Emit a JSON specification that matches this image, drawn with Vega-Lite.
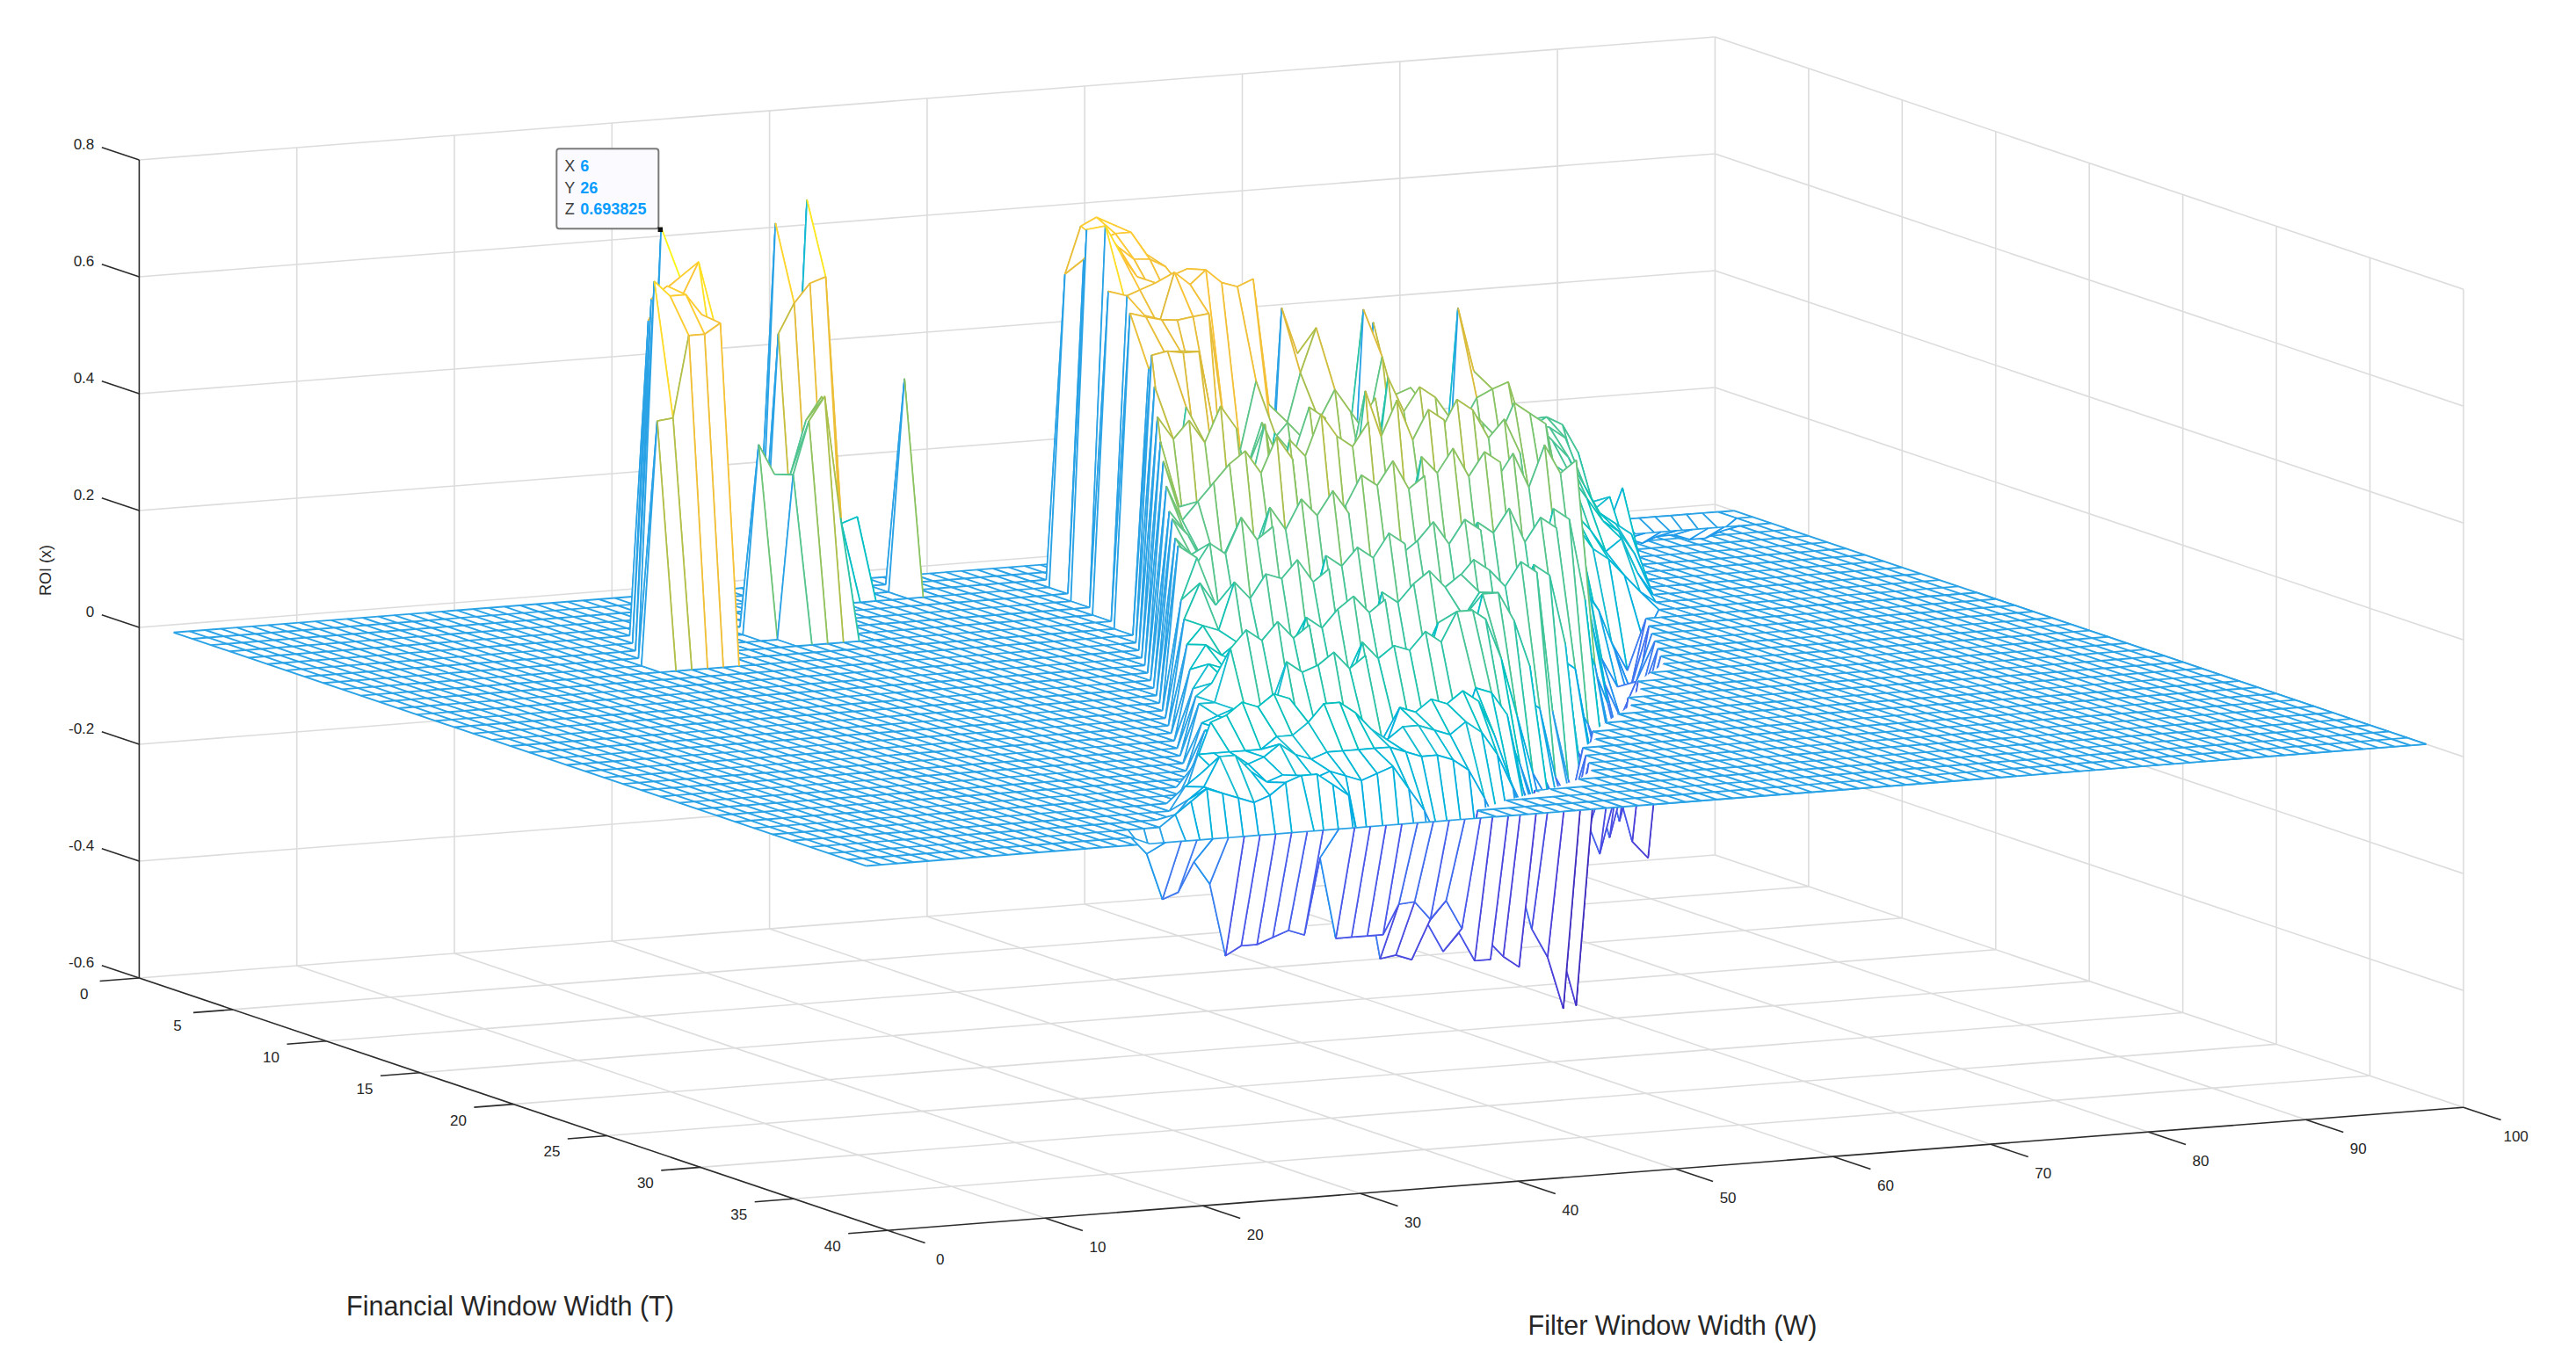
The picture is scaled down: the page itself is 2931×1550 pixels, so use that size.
{"$schema":"https://vega.github.io/schema/vega-lite/v6.json","width":2931,"height":1550,"padding":0,"autosize":{"type":"fit","contains":"padding"},"background":"white","config":{"view":{"stroke":null}},
"datasets":{
"frame":[{"g":"grid","t":0,"w":0,"z":-0.6,"t2":40,"w2":0,"z2":-0.6},{"g":"grid","t":0,"w":10,"z":-0.6,"t2":40,"w2":10,"z2":-0.6},{"g":"grid","t":0,"w":20,"z":-0.6,"t2":40,"w2":20,"z2":-0.6},{"g":"grid","t":0,"w":30,"z":-0.6,"t2":40,"w2":30,"z2":-0.6},{"g":"grid","t":0,"w":40,"z":-0.6,"t2":40,"w2":40,"z2":-0.6},{"g":"grid","t":0,"w":50,"z":-0.6,"t2":40,"w2":50,"z2":-0.6},{"g":"grid","t":0,"w":60,"z":-0.6,"t2":40,"w2":60,"z2":-0.6},{"g":"grid","t":0,"w":70,"z":-0.6,"t2":40,"w2":70,"z2":-0.6},{"g":"grid","t":0,"w":80,"z":-0.6,"t2":40,"w2":80,"z2":-0.6},{"g":"grid","t":0,"w":90,"z":-0.6,"t2":40,"w2":90,"z2":-0.6},{"g":"grid","t":0,"w":100,"z":-0.6,"t2":40,"w2":100,"z2":-0.6},
{"g":"grid","t":0,"w":0,"z":-0.6,"t2":0,"w2":100,"z2":-0.6},{"g":"grid","t":5,"w":0,"z":-0.6,"t2":5,"w2":100,"z2":-0.6},{"g":"grid","t":10,"w":0,"z":-0.6,"t2":10,"w2":100,"z2":-0.6},{"g":"grid","t":15,"w":0,"z":-0.6,"t2":15,"w2":100,"z2":-0.6},{"g":"grid","t":20,"w":0,"z":-0.6,"t2":20,"w2":100,"z2":-0.6},{"g":"grid","t":25,"w":0,"z":-0.6,"t2":25,"w2":100,"z2":-0.6},{"g":"grid","t":30,"w":0,"z":-0.6,"t2":30,"w2":100,"z2":-0.6},{"g":"grid","t":35,"w":0,"z":-0.6,"t2":35,"w2":100,"z2":-0.6},
{"g":"grid","t":0,"w":10,"z":-0.6,"t2":0,"w2":10,"z2":0.8},{"g":"grid","t":0,"w":20,"z":-0.6,"t2":0,"w2":20,"z2":0.8},{"g":"grid","t":0,"w":30,"z":-0.6,"t2":0,"w2":30,"z2":0.8},{"g":"grid","t":0,"w":40,"z":-0.6,"t2":0,"w2":40,"z2":0.8},{"g":"grid","t":0,"w":50,"z":-0.6,"t2":0,"w2":50,"z2":0.8},{"g":"grid","t":0,"w":60,"z":-0.6,"t2":0,"w2":60,"z2":0.8},{"g":"grid","t":0,"w":70,"z":-0.6,"t2":0,"w2":70,"z2":0.8},{"g":"grid","t":0,"w":80,"z":-0.6,"t2":0,"w2":80,"z2":0.8},{"g":"grid","t":0,"w":90,"z":-0.6,"t2":0,"w2":90,"z2":0.8},{"g":"grid","t":0,"w":100,"z":-0.6,"t2":0,"w2":100,"z2":0.8},
{"g":"grid","t":0,"w":0,"z":-0.4,"t2":0,"w2":100,"z2":-0.4},{"g":"grid","t":0,"w":0,"z":-0.2,"t2":0,"w2":100,"z2":-0.2},{"g":"grid","t":0,"w":0,"z":0,"t2":0,"w2":100,"z2":0},{"g":"grid","t":0,"w":0,"z":0.2,"t2":0,"w2":100,"z2":0.2},{"g":"grid","t":0,"w":0,"z":0.4,"t2":0,"w2":100,"z2":0.4},{"g":"grid","t":0,"w":0,"z":0.6,"t2":0,"w2":100,"z2":0.6},{"g":"grid","t":0,"w":0,"z":0.8,"t2":0,"w2":100,"z2":0.8},
{"g":"grid","t":5,"w":100,"z":-0.6,"t2":5,"w2":100,"z2":0.8},{"g":"grid","t":10,"w":100,"z":-0.6,"t2":10,"w2":100,"z2":0.8},{"g":"grid","t":15,"w":100,"z":-0.6,"t2":15,"w2":100,"z2":0.8},{"g":"grid","t":20,"w":100,"z":-0.6,"t2":20,"w2":100,"z2":0.8},{"g":"grid","t":25,"w":100,"z":-0.6,"t2":25,"w2":100,"z2":0.8},{"g":"grid","t":30,"w":100,"z":-0.6,"t2":30,"w2":100,"z2":0.8},{"g":"grid","t":35,"w":100,"z":-0.6,"t2":35,"w2":100,"z2":0.8},{"g":"grid","t":40,"w":100,"z":-0.6,"t2":40,"w2":100,"z2":0.8},
{"g":"grid","t":0,"w":100,"z":-0.4,"t2":40,"w2":100,"z2":-0.4},{"g":"grid","t":0,"w":100,"z":-0.2,"t2":40,"w2":100,"z2":-0.2},{"g":"grid","t":0,"w":100,"z":0,"t2":40,"w2":100,"z2":0},{"g":"grid","t":0,"w":100,"z":0.2,"t2":40,"w2":100,"z2":0.2},{"g":"grid","t":0,"w":100,"z":0.4,"t2":40,"w2":100,"z2":0.4},{"g":"grid","t":0,"w":100,"z":0.6,"t2":40,"w2":100,"z2":0.6},{"g":"grid","t":0,"w":100,"z":0.8,"t2":40,"w2":100,"z2":0.8},
{"g":"axis","t":0,"w":0,"z":-0.6,"t2":40,"w2":0,"z2":-0.6},{"g":"axis","t":40,"w":0,"z":-0.6,"t2":40,"w2":100,"z2":-0.6},{"g":"axis","t":0,"w":0,"z":-0.6,"t2":0,"w2":0,"z2":0.8},
{"g":"axis","t":0,"w":0,"z":-0.6,"t2":-2,"w2":0,"z2":-0.6},{"g":"axis","t":0,"w":0,"z":-0.4,"t2":-2,"w2":0,"z2":-0.4},{"g":"axis","t":0,"w":0,"z":-0.2,"t2":-2,"w2":0,"z2":-0.2},{"g":"axis","t":0,"w":0,"z":0,"t2":-2,"w2":0,"z2":0},{"g":"axis","t":0,"w":0,"z":0.2,"t2":-2,"w2":0,"z2":0.2},{"g":"axis","t":0,"w":0,"z":0.4,"t2":-2,"w2":0,"z2":0.4},{"g":"axis","t":0,"w":0,"z":0.6,"t2":-2,"w2":0,"z2":0.6},{"g":"axis","t":0,"w":0,"z":0.8,"t2":-2,"w2":0,"z2":0.8},
{"g":"axis","t":0,"w":0,"z":-0.6,"t2":0,"w2":-2.5,"z2":-0.6},{"g":"axis","t":5,"w":0,"z":-0.6,"t2":5,"w2":-2.5,"z2":-0.6},{"g":"axis","t":10,"w":0,"z":-0.6,"t2":10,"w2":-2.5,"z2":-0.6},{"g":"axis","t":15,"w":0,"z":-0.6,"t2":15,"w2":-2.5,"z2":-0.6},{"g":"axis","t":20,"w":0,"z":-0.6,"t2":20,"w2":-2.5,"z2":-0.6},{"g":"axis","t":25,"w":0,"z":-0.6,"t2":25,"w2":-2.5,"z2":-0.6},{"g":"axis","t":30,"w":0,"z":-0.6,"t2":30,"w2":-2.5,"z2":-0.6},{"g":"axis","t":35,"w":0,"z":-0.6,"t2":35,"w2":-2.5,"z2":-0.6},{"g":"axis","t":40,"w":0,"z":-0.6,"t2":40,"w2":-2.5,"z2":-0.6},
{"g":"axis","t":40,"w":0,"z":-0.6,"t2":42,"w2":0,"z2":-0.6},{"g":"axis","t":40,"w":10,"z":-0.6,"t2":42,"w2":10,"z2":-0.6},{"g":"axis","t":40,"w":20,"z":-0.6,"t2":42,"w2":20,"z2":-0.6},{"g":"axis","t":40,"w":30,"z":-0.6,"t2":42,"w2":30,"z2":-0.6},{"g":"axis","t":40,"w":40,"z":-0.6,"t2":42,"w2":40,"z2":-0.6},{"g":"axis","t":40,"w":50,"z":-0.6,"t2":42,"w2":50,"z2":-0.6},{"g":"axis","t":40,"w":60,"z":-0.6,"t2":42,"w2":60,"z2":-0.6},{"g":"axis","t":40,"w":70,"z":-0.6,"t2":42,"w2":70,"z2":-0.6},{"g":"axis","t":40,"w":80,"z":-0.6,"t2":42,"w2":80,"z2":-0.6},{"g":"axis","t":40,"w":90,"z":-0.6,"t2":42,"w2":90,"z2":-0.6},{"g":"axis","t":40,"w":100,"z":-0.6,"t2":42,"w2":100,"z2":-0.6}],
"labels":[{"a":"z","t":-2.4,"w":0,"z":0.8,"s":"0.8"},{"a":"z","t":-2.4,"w":0,"z":0.6,"s":"0.6"},{"a":"z","t":-2.4,"w":0,"z":0.4,"s":"0.4"},{"a":"z","t":-2.4,"w":0,"z":0.2,"s":"0.2"},{"a":"z","t":-2.4,"w":0,"z":0,"s":"0"},{"a":"z","t":-2.4,"w":0,"z":-0.2,"s":"-0.2"},{"a":"z","t":-2.4,"w":0,"z":-0.4,"s":"-0.4"},{"a":"z","t":-2.4,"w":0,"z":-0.6,"s":"-0.6"},
{"a":"t","t":0,"w":-3.5,"z":-0.6,"s":"0"},{"a":"t","t":5,"w":-3.5,"z":-0.6,"s":"5"},{"a":"t","t":10,"w":-3.5,"z":-0.6,"s":"10"},{"a":"t","t":15,"w":-3.5,"z":-0.6,"s":"15"},{"a":"t","t":20,"w":-3.5,"z":-0.6,"s":"20"},{"a":"t","t":25,"w":-3.5,"z":-0.6,"s":"25"},{"a":"t","t":30,"w":-3.5,"z":-0.6,"s":"30"},{"a":"t","t":35,"w":-3.5,"z":-0.6,"s":"35"},{"a":"t","t":40,"w":-3.5,"z":-0.6,"s":"40"},
{"a":"t","t":42.8,"w":0,"z":-0.6,"s":"0"},{"a":"t","t":42.8,"w":10,"z":-0.6,"s":"10"},{"a":"t","t":42.8,"w":20,"z":-0.6,"s":"20"},{"a":"t","t":42.8,"w":30,"z":-0.6,"s":"30"},{"a":"t","t":42.8,"w":40,"z":-0.6,"s":"40"},{"a":"t","t":42.8,"w":50,"z":-0.6,"s":"50"},{"a":"t","t":42.8,"w":60,"z":-0.6,"s":"60"},{"a":"t","t":42.8,"w":70,"z":-0.6,"s":"70"},{"a":"t","t":42.8,"w":80,"z":-0.6,"s":"80"},{"a":"t","t":42.8,"w":90,"z":-0.6,"s":"90"},{"a":"t","t":42.8,"w":100,"z":-0.6,"s":"100"}],
"titles":[{"t":46.1,"w":-31.2,"z":-0.6,"s":"Financial Window Width (T)"},{"t":60.3,"w":25.7,"z":-0.6,"s":"Filter Window Width (W)"}],
"zt":[{"t":0,"w":-5.9,"z":0.11,"s":"ROI (x)"}],
"sheetpoly":[{"t":1,"w":1,"i":0},{"t":1,"w":100,"i":1},{"t":38,"w":100,"i":2},{"t":38,"w":1,"i":3}],
"sheet":[{"t":1},{"t":2},{"t":3},{"t":4},{"t":5},{"t":6},{"t":7},{"t":8},{"t":9},{"t":10},{"t":11},{"t":12},{"t":13},{"t":14},{"t":15},{"t":16},{"t":17},{"t":18},{"t":19},{"t":20},{"t":21},{"t":22},{"t":23},{"t":24},{"t":25},{"t":26},{"t":27},{"t":28},{"t":29},{"t":30},{"t":31},{"t":32},{"t":33},{"t":34},{"t":35},{"t":36},{"t":37},{"t":38},{"w":1},{"w":2},{"w":3},{"w":4},{"w":5},{"w":6},{"w":7},{"w":8},{"w":9},{"w":10},{"w":11},{"w":12},{"w":13},{"w":14},{"w":15},{"w":16},{"w":17},{"w":18},{"w":19},{"w":20},{"w":21},{"w":22},{"w":23},{"w":24},{"w":25},{"w":26},{"w":27},{"w":28},{"w":29},{"w":30},{"w":31},{"w":32},{"w":33},{"w":34},{"w":35},{"w":36},{"w":37},{"w":38},{"w":39},{"w":40},{"w":41},{"w":42},{"w":43},{"w":44},{"w":45},{"w":46},{"w":47},{"w":48},{"w":49},{"w":50},{"w":51},{"w":52},{"w":53},{"w":54},{"w":55},{"w":56},{"w":57},{"w":58},{"w":59},{"w":60},{"w":61},{"w":62},{"w":63},{"w":64},{"w":65},{"w":66},{"w":67},{"w":68},{"w":69},{"w":70},{"w":71},{"w":72},{"w":73},{"w":74},{"w":75},{"w":76},{"w":77},{"w":78},{"w":79},{"w":80},{"w":81},{"w":82},{"w":83},{"w":84},{"w":85},{"w":86},{"w":87},{"w":88},{"w":89},{"w":90},{"w":91},{"w":92},{"w":93},{"w":94},{"w":95},{"w":96},{"w":97},{"w":98},{"w":99},{"w":100}],
"coverT":[{"t":14,"w":79},{"t":15,"w":78},{"t":16,"w":77},{"t":17,"w":76},{"t":18,"w":75},{"t":19,"w":74},{"t":20,"w":73},{"t":21,"w":71},{"t":22,"w":69},{"t":23,"w":68},{"t":24,"w":66},{"t":25,"w":65},{"t":26,"w":63},{"t":27,"w":61},{"t":28,"w":59},{"t":29,"w":58},{"t":30,"w":56},{"t":31,"w":55},{"t":32,"w":54},{"t":33,"w":53},{"t":34,"w":51},{"t":35,"w":48},{"t":36,"w":44},{"t":37,"w":41},{"t":38,"w":41}],
"coverW":[{"w":41,"u":37},{"w":42,"u":37},{"w":43,"u":37},{"w":44,"u":36},{"w":45,"u":36},{"w":46,"u":36},{"w":47,"u":36},{"w":48,"u":35},{"w":49,"u":35},{"w":50,"u":35},{"w":51,"u":34},{"w":52,"u":34},{"w":53,"u":33},{"w":54,"u":32},{"w":55,"u":31},{"w":56,"u":30},{"w":57,"u":30},{"w":58,"u":29},{"w":59,"u":28},{"w":60,"u":28},{"w":61,"u":27},{"w":62,"u":27},{"w":63,"u":26},{"w":64,"u":26},{"w":65,"u":25},{"w":66,"u":24},{"w":67,"u":24},{"w":68,"u":23},{"w":69,"u":22},{"w":70,"u":22},{"w":71,"u":21},{"w":72,"u":21},{"w":73,"u":20},{"w":74,"u":19},{"w":75,"u":18},{"w":76,"u":17},{"w":77,"u":16},{"w":78,"u":15},{"w":79,"u":14},{"w":80,"u":14},{"w":81,"u":14},{"w":82,"u":14},{"w":83,"u":14},{"w":84,"u":14},{"w":85,"u":14},{"w":86,"u":14},{"w":87,"u":14},{"w":88,"u":14},{"w":89,"u":14},{"w":90,"u":14},{"w":91,"u":14},{"w":92,"u":14},{"w":93,"u":14},{"w":94,"u":14},{"w":95,"u":14},{"w":96,"u":14},{"w":97,"u":14},{"w":98,"u":14},{"w":99,"u":14},{"w":100,"u":14}],
"coverpoly":[{"t":14,"w":100,"i":0},{"t":38,"w":100,"i":1},{"t":38,"w":41,"i":2},{"t":37,"w":41,"i":3},{"t":36,"w":44,"i":4},{"t":35,"w":48,"i":5},{"t":34,"w":51,"i":6},{"t":33,"w":53,"i":7},{"t":32,"w":54,"i":8},{"t":31,"w":55,"i":9},{"t":30,"w":56,"i":10},{"t":29,"w":58,"i":11},{"t":28,"w":59,"i":12},{"t":27,"w":61,"i":13},{"t":26,"w":63,"i":14},{"t":25,"w":65,"i":15},{"t":24,"w":66,"i":16},{"t":23,"w":68,"i":17},{"t":22,"w":69,"i":18},{"t":21,"w":71,"i":19},{"t":20,"w":73,"i":20},{"t":19,"w":74,"i":21},{"t":18,"w":75,"i":22},{"t":17,"w":76,"i":23},{"t":16,"w":77,"i":24},{"t":15,"w":78,"i":25},{"t":14,"w":79,"i":26}],
"tip":[{"t":6,"w":26,"z":0.693825}],
"tiptext":[{"t":6,"w":26,"z":0.693825,"r":0,"n":"X","v":"6"},{"t":6,"w":26,"z":0.693825,"r":1,"n":"Y","v":"26"},{"t":6,"w":26,"z":0.693825,"r":2,"n":"Z","v":"0.693825"}],
"nodes":[
{"t":1,"w":98,"z":0},{"t":1,"w":97,"z":0},{"t":1,"w":96,"z":0},{"t":1,"w":95,"z":0},{"t":1,"w":94,"z":0},{"t":1,"w":93,"z":0},{"t":1,"w":92,"z":0},{"t":1,"w":91,"z":0},{"t":1,"w":40,"z":0},{"t":1,"w":39,"z":0},{"t":1,"w":38,"z":0},{"t":1,"w":37,"z":0},{"t":1,"w":36,"z":0},
{"t":2,"w":98,"z":-0.02},{"t":2,"w":97,"z":-0.03},{"t":2,"w":96,"z":-0.03},{"t":2,"w":95,"z":-0.02},{"t":2,"w":94,"z":-0.02},{"t":2,"w":93,"z":-0.03},{"t":2,"w":92,"z":-0.02},{"t":2,"w":91,"z":0},{"t":2,"w":45,"z":0},{"t":2,"w":44,"z":0},{"t":2,"w":43,"z":0},{"t":2,"w":42,"z":0},{"t":2,"w":41,"z":0},{"t":2,"w":40,"z":0.669},{"t":2,"w":39,"z":0.1},{"t":2,"w":38,"z":0.633},{"t":2,"w":37,"z":0},{"t":2,"w":36,"z":0},
{"t":3,"w":60,"z":0},{"t":3,"w":59,"z":0},{"t":3,"w":58,"z":0},{"t":3,"w":57,"z":0},{"t":3,"w":56,"z":0},{"t":3,"w":55,"z":0},{"t":3,"w":54,"z":0},{"t":3,"w":53,"z":0},{"t":3,"w":45,"z":0.363},{"t":3,"w":44,"z":0},{"t":3,"w":43,"z":0},{"t":3,"w":42,"z":0.133},{"t":3,"w":41,"z":0.124},{"t":3,"w":40,"z":0.548},{"t":3,"w":39,"z":0.539},{"t":3,"w":38,"z":0.507},{"t":3,"w":37,"z":0.457},{"t":3,"w":36,"z":0},
{"t":4,"w":60,"z":0},{"t":4,"w":59,"z":0.3},{"t":4,"w":58,"z":0.55},{"t":4,"w":57,"z":0.613},{"t":4,"w":56,"z":0.627},{"t":4,"w":55,"z":0.614},{"t":4,"w":54,"z":0.534},{"t":4,"w":53,"z":0},
{"t":5,"w":88,"z":0},{"t":5,"w":87,"z":0},{"t":5,"w":86,"z":0},{"t":5,"w":85,"z":0},{"t":5,"w":84,"z":0.05},{"t":5,"w":83,"z":0.1},{"t":5,"w":82,"z":0.18},{"t":5,"w":81,"z":0.2},{"t":5,"w":80,"z":0.15},{"t":5,"w":79,"z":0},{"t":5,"w":78,"z":0},{"t":5,"w":61,"z":0},{"t":5,"w":60,"z":0.3},{"t":5,"w":59,"z":0.45},{"t":5,"w":58,"z":0.57},{"t":5,"w":57,"z":0.61},{"t":5,"w":56,"z":0.61},{"t":5,"w":55,"z":0.6},{"t":5,"w":54,"z":0.57},{"t":5,"w":53,"z":0},{"t":5,"w":52,"z":0},{"t":5,"w":27,"z":0},{"t":5,"w":26,"z":0},{"t":5,"w":25,"z":0},
{"t":6,"w":88,"z":0},{"t":6,"w":87,"z":0.12},{"t":6,"w":86,"z":0.05},{"t":6,"w":85,"z":0.1},{"t":6,"w":84,"z":0.1},{"t":6,"w":83,"z":0.12},{"t":6,"w":82,"z":0.24},{"t":6,"w":81,"z":0.25},{"t":6,"w":80,"z":0.22},{"t":6,"w":79,"z":0},{"t":6,"w":78,"z":0},{"t":6,"w":71,"z":0},{"t":6,"w":70,"z":0},{"t":6,"w":69,"z":0},{"t":6,"w":62,"z":0},{"t":6,"w":61,"z":0.2},{"t":6,"w":60,"z":0.4},{"t":6,"w":59,"z":0.5},{"t":6,"w":58,"z":0.56},{"t":6,"w":57,"z":0.575},{"t":6,"w":56,"z":0.577},{"t":6,"w":55,"z":0.6},{"t":6,"w":54,"z":0.63},{"t":6,"w":53,"z":0.634},{"t":6,"w":52,"z":0},{"t":6,"w":51,"z":0},{"t":6,"w":36,"z":0},{"t":6,"w":35,"z":0},{"t":6,"w":34,"z":0},{"t":6,"w":33,"z":0},{"t":6,"w":32,"z":0},{"t":6,"w":31,"z":0},{"t":6,"w":30,"z":0},{"t":6,"w":28,"z":0},{"t":6,"w":27,"z":0.5},{"t":6,"w":26,"z":0.693825},{"t":6,"w":25,"z":0},{"t":6,"w":24,"z":0},{"t":6,"w":23,"z":0},
{"t":7,"w":87,"z":0},{"t":7,"w":86,"z":0},{"t":7,"w":85,"z":0.12},{"t":7,"w":84,"z":0.1},{"t":7,"w":83,"z":0.2},{"t":7,"w":82,"z":0.25},{"t":7,"w":81,"z":0.265},{"t":7,"w":80,"z":0.25},{"t":7,"w":79,"z":0.2},{"t":7,"w":78,"z":0},{"t":7,"w":77,"z":0.05},{"t":7,"w":76,"z":0.05},{"t":7,"w":75,"z":0.05},{"t":7,"w":74,"z":0},{"t":7,"w":73,"z":0},{"t":7,"w":72,"z":0.1},{"t":7,"w":71,"z":0.2},{"t":7,"w":70,"z":0.45},{"t":7,"w":69,"z":0},{"t":7,"w":68,"z":0},{"t":7,"w":67,"z":0},{"t":7,"w":66,"z":0},{"t":7,"w":65,"z":0},{"t":7,"w":64,"z":0},{"t":7,"w":63,"z":0},{"t":7,"w":62,"z":0},{"t":7,"w":61,"z":0.3},{"t":7,"w":60,"z":0.45},{"t":7,"w":59,"z":0.5},{"t":7,"w":58,"z":0.53},{"t":7,"w":57,"z":0.52},{"t":7,"w":56,"z":0.53},{"t":7,"w":55,"z":0.56},{"t":7,"w":54,"z":0.6},{"t":7,"w":53,"z":0.651},{"t":7,"w":52,"z":0},{"t":7,"w":51,"z":0},{"t":7,"w":36,"z":0},{"t":7,"w":35,"z":0.397},{"t":7,"w":34,"z":0.358},{"t":7,"w":33,"z":0.267},{"t":7,"w":32,"z":0.27},{"t":7,"w":31,"z":0.323},{"t":7,"w":30,"z":0},{"t":7,"w":28,"z":0},{"t":7,"w":27,"z":0.6},{"t":7,"w":26,"z":0.62},{"t":7,"w":25,"z":0.6},{"t":7,"w":24,"z":0.55},{"t":7,"w":23,"z":0},{"t":7,"w":22,"z":0},
{"t":8,"w":86,"z":0},{"t":8,"w":85,"z":0.03},{"t":8,"w":84,"z":0.08},{"t":8,"w":83,"z":0.1},{"t":8,"w":82,"z":0.15},{"t":8,"w":81,"z":0.24},{"t":8,"w":80,"z":0.26},{"t":8,"w":79,"z":0.27},{"t":8,"w":78,"z":0.22},{"t":8,"w":77,"z":0.18},{"t":8,"w":76,"z":0.1},{"t":8,"w":75,"z":0.1},{"t":8,"w":74,"z":0.15},{"t":8,"w":73,"z":0.1},{"t":8,"w":72,"z":0.05},{"t":8,"w":71,"z":0.2},{"t":8,"w":70,"z":0.33},{"t":8,"w":69,"z":0.38},{"t":8,"w":68,"z":0.32},{"t":8,"w":67,"z":0.2},{"t":8,"w":66,"z":0},{"t":8,"w":65,"z":0.3},{"t":8,"w":64,"z":0.42},{"t":8,"w":63,"z":0.5},{"t":8,"w":62,"z":0},{"t":8,"w":61,"z":0.4},{"t":8,"w":60,"z":0.5},{"t":8,"w":59,"z":0.55},{"t":8,"w":58,"z":0.57},{"t":8,"w":57,"z":0.58},{"t":8,"w":56,"z":0.57},{"t":8,"w":55,"z":0.56},{"t":8,"w":54,"z":0.55},{"t":8,"w":53,"z":0.54},{"t":8,"w":52,"z":0.552},{"t":8,"w":51,"z":0},{"t":8,"w":50,"z":0},{"t":8,"w":36,"z":0},{"t":8,"w":35,"z":0.2},{"t":8,"w":34,"z":0.41},{"t":8,"w":33,"z":0.37},{"t":8,"w":32,"z":0.28},{"t":8,"w":31,"z":0},{"t":8,"w":30,"z":0},{"t":8,"w":28,"z":0},{"t":8,"w":27,"z":0.55},{"t":8,"w":26,"z":0.657},{"t":8,"w":25,"z":0.603},{"t":8,"w":24,"z":0.62},{"t":8,"w":23,"z":0.6},{"t":8,"w":22,"z":0},{"t":8,"w":21,"z":0},
{"t":9,"w":85,"z":0},{"t":9,"w":84,"z":0.08},{"t":9,"w":83,"z":0.1},{"t":9,"w":82,"z":0.12},{"t":9,"w":81,"z":0.17},{"t":9,"w":80,"z":0.22},{"t":9,"w":79,"z":0.25},{"t":9,"w":78,"z":0.28},{"t":9,"w":77,"z":0.25},{"t":9,"w":76,"z":0.22},{"t":9,"w":75,"z":0.33},{"t":9,"w":74,"z":0.38},{"t":9,"w":73,"z":0.49},{"t":9,"w":72,"z":0},{"t":9,"w":71,"z":0.22},{"t":9,"w":70,"z":0.36},{"t":9,"w":69,"z":0.35},{"t":9,"w":68,"z":0.32},{"t":9,"w":67,"z":0.5},{"t":9,"w":66,"z":0},{"t":9,"w":65,"z":0.3},{"t":9,"w":64,"z":0.475},{"t":9,"w":63,"z":0.4},{"t":9,"w":62,"z":0.3},{"t":9,"w":61,"z":0.35},{"t":9,"w":60,"z":0.567},{"t":9,"w":59,"z":0.556},{"t":9,"w":58,"z":0.565},{"t":9,"w":57,"z":0.589},{"t":9,"w":56,"z":0.566},{"t":9,"w":55,"z":0.589},{"t":9,"w":54,"z":0.5},{"t":9,"w":53,"z":0.52},{"t":9,"w":52,"z":0.555},{"t":9,"w":51,"z":0},{"t":9,"w":50,"z":0},{"t":9,"w":49,"z":0},{"t":9,"w":27,"z":0},{"t":9,"w":26,"z":0.45},{"t":9,"w":25,"z":0.58},{"t":9,"w":24,"z":0.616},{"t":9,"w":23,"z":0.616},{"t":9,"w":22,"z":0.643},{"t":9,"w":21,"z":0},{"t":9,"w":20,"z":0},
{"t":10,"w":84,"z":0},{"t":10,"w":83,"z":0.06},{"t":10,"w":82,"z":0.1},{"t":10,"w":81,"z":0.12},{"t":10,"w":80,"z":0.16},{"t":10,"w":79,"z":0.2},{"t":10,"w":78,"z":0.22},{"t":10,"w":77,"z":0.25},{"t":10,"w":76,"z":0.28},{"t":10,"w":75,"z":0.37},{"t":10,"w":74,"z":0.36},{"t":10,"w":73,"z":0.347},{"t":10,"w":72,"z":0.3},{"t":10,"w":71,"z":0.3},{"t":10,"w":70,"z":0.33},{"t":10,"w":69,"z":0.3},{"t":10,"w":68,"z":0.33},{"t":10,"w":67,"z":0.43},{"t":10,"w":66,"z":0.3},{"t":10,"w":65,"z":0.34},{"t":10,"w":64,"z":0.38},{"t":10,"w":63,"z":0.33},{"t":10,"w":62,"z":0.3},{"t":10,"w":61,"z":0.33},{"t":10,"w":60,"z":0.3},{"t":10,"w":59,"z":0.405},{"t":10,"w":58,"z":0.29},{"t":10,"w":57,"z":0.33},{"t":10,"w":56,"z":0.527},{"t":10,"w":55,"z":0.524},{"t":10,"w":54,"z":0.52},{"t":10,"w":53,"z":0.523},{"t":10,"w":52,"z":0.53},{"t":10,"w":51,"z":0.538},{"t":10,"w":50,"z":0},{"t":10,"w":49,"z":0},{"t":10,"w":48,"z":0},{"t":10,"w":26,"z":0},{"t":10,"w":25,"z":0.576},{"t":10,"w":24,"z":0.559},{"t":10,"w":23,"z":0.559},{"t":10,"w":22,"z":0.42},{"t":10,"w":21,"z":0.417},{"t":10,"w":20,"z":0},
{"t":11,"w":83,"z":0},{"t":11,"w":82,"z":0.04},{"t":11,"w":81,"z":0.1},{"t":11,"w":80,"z":0.08},{"t":11,"w":79,"z":0.12},{"t":11,"w":78,"z":0.15},{"t":11,"w":77,"z":0.18},{"t":11,"w":76,"z":0.22},{"t":11,"w":75,"z":0.2},{"t":11,"w":74,"z":0.16},{"t":11,"w":73,"z":0.12},{"t":11,"w":72,"z":0.1},{"t":11,"w":71,"z":0.14},{"t":11,"w":70,"z":0.12},{"t":11,"w":69,"z":0.1},{"t":11,"w":68,"z":0.13},{"t":11,"w":67,"z":0.16},{"t":11,"w":66,"z":0.13},{"t":11,"w":65,"z":0.18},{"t":11,"w":64,"z":0.13},{"t":11,"w":63,"z":0.1},{"t":11,"w":62,"z":0.12},{"t":11,"w":61,"z":0.1},{"t":11,"w":60,"z":0.15},{"t":11,"w":59,"z":0.327},{"t":11,"w":58,"z":0.17},{"t":11,"w":57,"z":0.13},{"t":11,"w":56,"z":0.15},{"t":11,"w":55,"z":0.36},{"t":11,"w":54,"z":0.4},{"t":11,"w":53,"z":0.48},{"t":11,"w":52,"z":0.48},{"t":11,"w":51,"z":0.454},{"t":11,"w":50,"z":0},{"t":11,"w":49,"z":0},{"t":11,"w":48,"z":0},
{"t":12,"w":82,"z":0},{"t":12,"w":81,"z":0.02},{"t":12,"w":80,"z":0.05},{"t":12,"w":79,"z":0.08},{"t":12,"w":78,"z":0.1},{"t":12,"w":77,"z":0.14},{"t":12,"w":76,"z":0.18},{"t":12,"w":75,"z":0.32},{"t":12,"w":74,"z":0.34},{"t":12,"w":73,"z":0.36},{"t":12,"w":72,"z":0.3},{"t":12,"w":71,"z":0.33},{"t":12,"w":70,"z":0.36},{"t":12,"w":69,"z":0.34},{"t":12,"w":68,"z":0.38},{"t":12,"w":67,"z":0.4},{"t":12,"w":66,"z":0.36},{"t":12,"w":65,"z":0.42},{"t":12,"w":64,"z":0.2},{"t":12,"w":63,"z":0.14},{"t":12,"w":62,"z":0.16},{"t":12,"w":61,"z":0.36},{"t":12,"w":60,"z":0.38},{"t":12,"w":59,"z":0.3},{"t":12,"w":58,"z":0.3},{"t":12,"w":57,"z":0.36},{"t":12,"w":56,"z":0.28},{"t":12,"w":55,"z":0.3},{"t":12,"w":54,"z":0.35},{"t":12,"w":53,"z":0.49},{"t":12,"w":52,"z":0.49},{"t":12,"w":51,"z":0.495},{"t":12,"w":50,"z":0.49},{"t":12,"w":49,"z":0},{"t":12,"w":48,"z":0},
{"t":13,"w":81,"z":0},{"t":13,"w":80,"z":-0.05},{"t":13,"w":79,"z":-0.1},{"t":13,"w":78,"z":-0.05},{"t":13,"w":77,"z":0},{"t":13,"w":76,"z":0.06},{"t":13,"w":75,"z":0.1},{"t":13,"w":74,"z":0.16},{"t":13,"w":73,"z":0.18},{"t":13,"w":72,"z":0.14},{"t":13,"w":71,"z":0.16},{"t":13,"w":70,"z":0.18},{"t":13,"w":69,"z":0.2},{"t":13,"w":68,"z":0.12},{"t":13,"w":67,"z":0.15},{"t":13,"w":66,"z":0.18},{"t":13,"w":65,"z":0.16},{"t":13,"w":64,"z":0.24},{"t":13,"w":63,"z":0.4},{"t":13,"w":62,"z":0.36},{"t":13,"w":61,"z":0.2},{"t":13,"w":60,"z":0.14},{"t":13,"w":59,"z":0.12},{"t":13,"w":58,"z":0.16},{"t":13,"w":57,"z":0.2},{"t":13,"w":56,"z":0.37},{"t":13,"w":55,"z":0.26},{"t":13,"w":54,"z":0.28},{"t":13,"w":53,"z":0.25},{"t":13,"w":52,"z":0.245},{"t":13,"w":51,"z":0.41},{"t":13,"w":50,"z":0.22},{"t":13,"w":49,"z":0.449},{"t":13,"w":48,"z":0},{"t":13,"w":47,"z":0},
{"t":14,"w":78,"z":-0.12},{"t":14,"w":77,"z":-0.05},{"t":14,"w":76,"z":0.02},{"t":14,"w":75,"z":0.06},{"t":14,"w":74,"z":0.1},{"t":14,"w":73,"z":0.08},{"t":14,"w":72,"z":0.1},{"t":14,"w":71,"z":0.3},{"t":14,"w":70,"z":0.36},{"t":14,"w":69,"z":0.33},{"t":14,"w":68,"z":0.38},{"t":14,"w":67,"z":0.4},{"t":14,"w":66,"z":0.35},{"t":14,"w":65,"z":0.2},{"t":14,"w":64,"z":0.26},{"t":14,"w":63,"z":0.22},{"t":14,"w":62,"z":0.25},{"t":14,"w":61,"z":0.2},{"t":14,"w":60,"z":0.27},{"t":14,"w":59,"z":0.08},{"t":14,"w":58,"z":0.12},{"t":14,"w":57,"z":0.07},{"t":14,"w":56,"z":0.1},{"t":14,"w":55,"z":0.13},{"t":14,"w":54,"z":0.09},{"t":14,"w":53,"z":0.38},{"t":14,"w":52,"z":0.42},{"t":14,"w":51,"z":0.36},{"t":14,"w":50,"z":0.4},{"t":14,"w":49,"z":0.37},{"t":14,"w":48,"z":0.41},{"t":14,"w":47,"z":0},{"t":14,"w":46,"z":0},
{"t":15,"w":77,"z":-0.15},{"t":15,"w":76,"z":-0.1},{"t":15,"w":75,"z":-0.05},{"t":15,"w":74,"z":0.1},{"t":15,"w":73,"z":0.16},{"t":15,"w":72,"z":0.2},{"t":15,"w":71,"z":0.08},{"t":15,"w":70,"z":0.1},{"t":15,"w":69,"z":0.06},{"t":15,"w":68,"z":0.1},{"t":15,"w":67,"z":0.12},{"t":15,"w":66,"z":0.08},{"t":15,"w":65,"z":0.38},{"t":15,"w":64,"z":0.4},{"t":15,"w":63,"z":0.35},{"t":15,"w":62,"z":0.42},{"t":15,"w":61,"z":0.36},{"t":15,"w":60,"z":0.44},{"t":15,"w":59,"z":0.22},{"t":15,"w":58,"z":0.26},{"t":15,"w":57,"z":0.2},{"t":15,"w":56,"z":0.25},{"t":15,"w":55,"z":0.28},{"t":15,"w":54,"z":0.22},{"t":15,"w":53,"z":0.1},{"t":15,"w":52,"z":0.08},{"t":15,"w":51,"z":0.11},{"t":15,"w":50,"z":0.07},{"t":15,"w":49,"z":0.12},{"t":15,"w":48,"z":0.15},{"t":15,"w":47,"z":0.38},{"t":15,"w":46,"z":0},{"t":15,"w":45,"z":0},
{"t":16,"w":76,"z":-0.08},{"t":16,"w":75,"z":-0.14},{"t":16,"w":74,"z":-0.08},{"t":16,"w":73,"z":0.05},{"t":16,"w":72,"z":0.22},{"t":16,"w":71,"z":0.2},{"t":16,"w":70,"z":0.24},{"t":16,"w":69,"z":0.2},{"t":16,"w":68,"z":0.22},{"t":16,"w":67,"z":0.26},{"t":16,"w":66,"z":0.2},{"t":16,"w":65,"z":0.08},{"t":16,"w":64,"z":0.1},{"t":16,"w":63,"z":0.12},{"t":16,"w":62,"z":0.07},{"t":16,"w":61,"z":0.1},{"t":16,"w":60,"z":0.06},{"t":16,"w":59,"z":0.4},{"t":16,"w":58,"z":0.36},{"t":16,"w":57,"z":0.38},{"t":16,"w":56,"z":0.42},{"t":16,"w":55,"z":0.35},{"t":16,"w":54,"z":0.38},{"t":16,"w":53,"z":0.22},{"t":16,"w":52,"z":0.26},{"t":16,"w":51,"z":0.2},{"t":16,"w":50,"z":0.24},{"t":16,"w":49,"z":0.2},{"t":16,"w":48,"z":0.25},{"t":16,"w":47,"z":0.28},{"t":16,"w":46,"z":0.36},{"t":16,"w":45,"z":0},{"t":16,"w":44,"z":0},
{"t":17,"w":75,"z":-0.1},{"t":17,"w":74,"z":-0.2},{"t":17,"w":73,"z":-0.1},{"t":17,"w":72,"z":-0.03},{"t":17,"w":71,"z":0.32},{"t":17,"w":70,"z":0.3},{"t":17,"w":69,"z":0.35},{"t":17,"w":68,"z":0.28},{"t":17,"w":67,"z":0.34},{"t":17,"w":66,"z":0.3},{"t":17,"w":65,"z":0.22},{"t":17,"w":64,"z":0.2},{"t":17,"w":63,"z":0.24},{"t":17,"w":62,"z":0.18},{"t":17,"w":61,"z":0.22},{"t":17,"w":60,"z":0.2},{"t":17,"w":59,"z":0.07},{"t":17,"w":58,"z":0.1},{"t":17,"w":57,"z":0.06},{"t":17,"w":56,"z":0.1},{"t":17,"w":55,"z":0.08},{"t":17,"w":54,"z":0.12},{"t":17,"w":53,"z":0.36},{"t":17,"w":52,"z":0.4},{"t":17,"w":51,"z":0.34},{"t":17,"w":50,"z":0.38},{"t":17,"w":49,"z":0.36},{"t":17,"w":48,"z":0.33},{"t":17,"w":47,"z":0.3},{"t":17,"w":46,"z":0.27},{"t":17,"w":45,"z":0.33},{"t":17,"w":44,"z":0},{"t":17,"w":43,"z":0},
{"t":18,"w":74,"z":-0.12},{"t":18,"w":73,"z":-0.22},{"t":18,"w":72,"z":-0.15},{"t":18,"w":71,"z":-0.02},{"t":18,"w":70,"z":0.05},{"t":18,"w":69,"z":0.07},{"t":18,"w":68,"z":0.04},{"t":18,"w":67,"z":0.06},{"t":18,"w":66,"z":0.05},{"t":18,"w":65,"z":0.34},{"t":18,"w":64,"z":0.36},{"t":18,"w":63,"z":0.32},{"t":18,"w":62,"z":0.37},{"t":18,"w":61,"z":0.33},{"t":18,"w":60,"z":0.36},{"t":18,"w":59,"z":0.2},{"t":18,"w":58,"z":0.22},{"t":18,"w":57,"z":0.18},{"t":18,"w":56,"z":0.24},{"t":18,"w":55,"z":0.2},{"t":18,"w":54,"z":0.22},{"t":18,"w":53,"z":0.08},{"t":18,"w":52,"z":0.06},{"t":18,"w":51,"z":0.1},{"t":18,"w":50,"z":0.07},{"t":18,"w":49,"z":0.09},{"t":18,"w":48,"z":0.06},{"t":18,"w":47,"z":0.2},{"t":18,"w":46,"z":0.22},{"t":18,"w":45,"z":0.26},{"t":18,"w":44,"z":0.3},{"t":18,"w":43,"z":0},{"t":18,"w":42,"z":0},
{"t":19,"w":73,"z":-0.1},{"t":19,"w":72,"z":-0.25},{"t":19,"w":71,"z":-0.18},{"t":19,"w":70,"z":-0.1},{"t":19,"w":69,"z":0.05},{"t":19,"w":68,"z":0.16},{"t":19,"w":67,"z":0.18},{"t":19,"w":66,"z":0.14},{"t":19,"w":65,"z":0.06},{"t":19,"w":64,"z":0.08},{"t":19,"w":63,"z":0.05},{"t":19,"w":62,"z":0.09},{"t":19,"w":61,"z":0.07},{"t":19,"w":60,"z":0.04},{"t":19,"w":59,"z":0.34},{"t":19,"w":58,"z":0.32},{"t":19,"w":57,"z":0.37},{"t":19,"w":56,"z":0.33},{"t":19,"w":55,"z":0.35},{"t":19,"w":54,"z":0.3},{"t":19,"w":53,"z":0.2},{"t":19,"w":52,"z":0.18},{"t":19,"w":51,"z":0.22},{"t":19,"w":50,"z":0.2},{"t":19,"w":49,"z":0.17},{"t":19,"w":48,"z":0.22},{"t":19,"w":47,"z":0.1},{"t":19,"w":46,"z":0.12},{"t":19,"w":45,"z":0.08},{"t":19,"w":44,"z":0.27},{"t":19,"w":43,"z":0.3},{"t":19,"w":42,"z":0},{"t":19,"w":41,"z":0},
{"t":20,"w":72,"z":-0.33},{"t":20,"w":71,"z":-0.3},{"t":20,"w":70,"z":-0.2},{"t":20,"w":69,"z":-0.12},{"t":20,"w":68,"z":0.12},{"t":20,"w":67,"z":0.26},{"t":20,"w":66,"z":0.28},{"t":20,"w":65,"z":0.18},{"t":20,"w":64,"z":0.2},{"t":20,"w":63,"z":0.16},{"t":20,"w":62,"z":0.2},{"t":20,"w":61,"z":0.18},{"t":20,"w":60,"z":0.22},{"t":20,"w":59,"z":0.06},{"t":20,"w":58,"z":0.08},{"t":20,"w":57,"z":0.05},{"t":20,"w":56,"z":0.09},{"t":20,"w":55,"z":0.07},{"t":20,"w":54,"z":0.05},{"t":20,"w":53,"z":0.3},{"t":20,"w":52,"z":0.34},{"t":20,"w":51,"z":0.3},{"t":20,"w":50,"z":0.33},{"t":20,"w":49,"z":0.28},{"t":20,"w":48,"z":0.32},{"t":20,"w":47,"z":0.22},{"t":20,"w":46,"z":0.2},{"t":20,"w":45,"z":0.24},{"t":20,"w":44,"z":0.22},{"t":20,"w":43,"z":0.25},{"t":20,"w":42,"z":0.28},{"t":20,"w":41,"z":0},{"t":20,"w":40,"z":0},
{"t":21,"w":70,"z":-0.15},{"t":21,"w":69,"z":-0.25},{"t":21,"w":68,"z":-0.15},{"t":21,"w":67,"z":-0.08},{"t":21,"w":66,"z":-0.03},{"t":21,"w":65,"z":0.26},{"t":21,"w":64,"z":0.28},{"t":21,"w":63,"z":0.24},{"t":21,"w":62,"z":0.3},{"t":21,"w":61,"z":0.26},{"t":21,"w":60,"z":0.28},{"t":21,"w":59,"z":0.18},{"t":21,"w":58,"z":0.2},{"t":21,"w":57,"z":0.16},{"t":21,"w":56,"z":0.2},{"t":21,"w":55,"z":0.18},{"t":21,"w":54,"z":0.2},{"t":21,"w":53,"z":0.06},{"t":21,"w":52,"z":0.08},{"t":21,"w":51,"z":0.05},{"t":21,"w":50,"z":0.07},{"t":21,"w":49,"z":0.09},{"t":21,"w":48,"z":0.06},{"t":21,"w":47,"z":0.3},{"t":21,"w":46,"z":0.28},{"t":21,"w":45,"z":0.32},{"t":21,"w":44,"z":0.26},{"t":21,"w":43,"z":0.28},{"t":21,"w":42,"z":0.24},{"t":21,"w":41,"z":0.28},{"t":21,"w":40,"z":0},{"t":21,"w":39,"z":0},
{"t":22,"w":68,"z":-0.15},{"t":22,"w":67,"z":-0.2},{"t":22,"w":66,"z":-0.12},{"t":22,"w":65,"z":0.03},{"t":22,"w":64,"z":0.05},{"t":22,"w":63,"z":0.02},{"t":22,"w":62,"z":0.06},{"t":22,"w":61,"z":0.04},{"t":22,"w":60,"z":0.05},{"t":22,"w":59,"z":0.28},{"t":22,"w":58,"z":0.3},{"t":22,"w":57,"z":0.26},{"t":22,"w":56,"z":0.3},{"t":22,"w":55,"z":0.27},{"t":22,"w":54,"z":0.25},{"t":22,"w":53,"z":0.16},{"t":22,"w":52,"z":0.18},{"t":22,"w":51,"z":0.15},{"t":22,"w":50,"z":0.17},{"t":22,"w":49,"z":0.18},{"t":22,"w":48,"z":0.14},{"t":22,"w":47,"z":0.06},{"t":22,"w":46,"z":0.08},{"t":22,"w":45,"z":0.05},{"t":22,"w":44,"z":0.08},{"t":22,"w":43,"z":0.06},{"t":22,"w":42,"z":0.1},{"t":22,"w":41,"z":0.27},{"t":22,"w":40,"z":0.2},{"t":22,"w":39,"z":0},{"t":22,"w":38,"z":0},
{"t":23,"w":67,"z":-0.15},{"t":23,"w":66,"z":-0.25},{"t":23,"w":65,"z":-0.15},{"t":23,"w":64,"z":-0.1},{"t":23,"w":63,"z":0.1},{"t":23,"w":62,"z":0.16},{"t":23,"w":61,"z":0.14},{"t":23,"w":60,"z":0.15},{"t":23,"w":59,"z":0.05},{"t":23,"w":58,"z":0.07},{"t":23,"w":57,"z":0.04},{"t":23,"w":56,"z":0.06},{"t":23,"w":55,"z":0.08},{"t":23,"w":54,"z":0.05},{"t":23,"w":53,"z":0.28},{"t":23,"w":52,"z":0.3},{"t":23,"w":51,"z":0.26},{"t":23,"w":50,"z":0.28},{"t":23,"w":49,"z":0.25},{"t":23,"w":48,"z":0.27},{"t":23,"w":47,"z":0.16},{"t":23,"w":46,"z":0.18},{"t":23,"w":45,"z":0.15},{"t":23,"w":44,"z":0.18},{"t":23,"w":43,"z":0.14},{"t":23,"w":42,"z":0.17},{"t":23,"w":41,"z":0.2},{"t":23,"w":40,"z":0.24},{"t":23,"w":39,"z":0.18},{"t":23,"w":38,"z":0},{"t":23,"w":37,"z":0},
{"t":24,"w":65,"z":-0.15},{"t":24,"w":64,"z":-0.2},{"t":24,"w":63,"z":-0.15},{"t":24,"w":62,"z":0.1},{"t":24,"w":61,"z":0.22},{"t":24,"w":60,"z":0.24},{"t":24,"w":59,"z":0.14},{"t":24,"w":58,"z":0.16},{"t":24,"w":57,"z":0.13},{"t":24,"w":56,"z":0.17},{"t":24,"w":55,"z":0.15},{"t":24,"w":54,"z":0.14},{"t":24,"w":53,"z":0.05},{"t":24,"w":52,"z":0.07},{"t":24,"w":51,"z":0.04},{"t":24,"w":50,"z":0.06},{"t":24,"w":49,"z":0.05},{"t":24,"w":48,"z":0.07},{"t":24,"w":47,"z":0.26},{"t":24,"w":46,"z":0.24},{"t":24,"w":45,"z":0.28},{"t":24,"w":44,"z":0.25},{"t":24,"w":43,"z":0.26},{"t":24,"w":42,"z":0.22},{"t":24,"w":41,"z":0.25},{"t":24,"w":40,"z":0.17},{"t":24,"w":39,"z":0.18},{"t":24,"w":38,"z":0.15},{"t":24,"w":37,"z":0},{"t":24,"w":36,"z":0},
{"t":25,"w":64,"z":-0.15},{"t":25,"w":63,"z":-0.25},{"t":25,"w":62,"z":-0.18},{"t":25,"w":61,"z":-0.12},{"t":25,"w":60,"z":0},{"t":25,"w":59,"z":0.24},{"t":25,"w":58,"z":0.26},{"t":25,"w":57,"z":0.22},{"t":25,"w":56,"z":0.25},{"t":25,"w":55,"z":0.27},{"t":25,"w":54,"z":0.24},{"t":25,"w":53,"z":0.14},{"t":25,"w":52,"z":0.16},{"t":25,"w":51,"z":0.13},{"t":25,"w":50,"z":0.15},{"t":25,"w":49,"z":0.14},{"t":25,"w":48,"z":0.12},{"t":25,"w":47,"z":0.05},{"t":25,"w":46,"z":0.07},{"t":25,"w":45,"z":0.04},{"t":25,"w":44,"z":0.06},{"t":25,"w":43,"z":0.05},{"t":25,"w":42,"z":0.08},{"t":25,"w":41,"z":0.05},{"t":25,"w":40,"z":0.16},{"t":25,"w":39,"z":0.14},{"t":25,"w":38,"z":0.16},{"t":25,"w":37,"z":0.12},{"t":25,"w":36,"z":0},{"t":25,"w":35,"z":0},
{"t":26,"w":62,"z":-0.12},{"t":26,"w":61,"z":-0.2},{"t":26,"w":60,"z":-0.15},{"t":26,"w":59,"z":-0.1},{"t":26,"w":58,"z":0.02},{"t":26,"w":57,"z":0.04},{"t":26,"w":56,"z":0.03},{"t":26,"w":55,"z":0.05},{"t":26,"w":54,"z":0.04},{"t":26,"w":53,"z":0.26},{"t":26,"w":52,"z":0.24},{"t":26,"w":51,"z":0.27},{"t":26,"w":50,"z":0.25},{"t":26,"w":49,"z":0.22},{"t":26,"w":48,"z":0.24},{"t":26,"w":47,"z":0.13},{"t":26,"w":46,"z":0.15},{"t":26,"w":45,"z":0.12},{"t":26,"w":44,"z":0.14},{"t":26,"w":43,"z":0.12},{"t":26,"w":42,"z":0.15},{"t":26,"w":41,"z":0.13},{"t":26,"w":40,"z":0.12},{"t":26,"w":39,"z":0.14},{"t":26,"w":38,"z":0.13},{"t":26,"w":37,"z":0.14},{"t":26,"w":36,"z":0.1},{"t":26,"w":35,"z":0},{"t":26,"w":34,"z":0},
{"t":27,"w":60,"z":-0.12},{"t":27,"w":59,"z":-0.2},{"t":27,"w":58,"z":-0.14},{"t":27,"w":57,"z":-0.08},{"t":27,"w":56,"z":0.1},{"t":27,"w":55,"z":0.14},{"t":27,"w":54,"z":0.12},{"t":27,"w":53,"z":0.24},{"t":27,"w":52,"z":0.2},{"t":27,"w":51,"z":0.06},{"t":27,"w":50,"z":0.07},{"t":27,"w":49,"z":0.05},{"t":27,"w":48,"z":0.06},{"t":27,"w":47,"z":0.24},{"t":27,"w":46,"z":0.22},{"t":27,"w":45,"z":0.25},{"t":27,"w":44,"z":0.23},{"t":27,"w":43,"z":0.2},{"t":27,"w":42,"z":0.22},{"t":27,"w":41,"z":0.13},{"t":27,"w":40,"z":0.12},{"t":27,"w":39,"z":0.14},{"t":27,"w":38,"z":0.13},{"t":27,"w":37,"z":0.12},{"t":27,"w":36,"z":0.12},{"t":27,"w":35,"z":0.1},{"t":27,"w":34,"z":0},{"t":27,"w":33,"z":0},
{"t":28,"w":58,"z":-0.12},{"t":28,"w":57,"z":-0.15},{"t":28,"w":56,"z":-0.08},{"t":28,"w":55,"z":0.12},{"t":28,"w":54,"z":0.2},{"t":28,"w":53,"z":0.25},{"t":28,"w":52,"z":0.25},{"t":28,"w":51,"z":0.14},{"t":28,"w":50,"z":0.15},{"t":28,"w":49,"z":0.13},{"t":28,"w":48,"z":0.14},{"t":28,"w":47,"z":0.05},{"t":28,"w":46,"z":0.06},{"t":28,"w":45,"z":0.04},{"t":28,"w":44,"z":0.06},{"t":28,"w":43,"z":0.05},{"t":28,"w":42,"z":0.07},{"t":28,"w":41,"z":0.22},{"t":28,"w":40,"z":0.2},{"t":28,"w":39,"z":0.23},{"t":28,"w":38,"z":0.2},{"t":28,"w":37,"z":0.22},{"t":28,"w":36,"z":0.19},{"t":28,"w":35,"z":0.1},{"t":28,"w":34,"z":0.1},{"t":28,"w":33,"z":0},{"t":28,"w":32,"z":0},
{"t":29,"w":57,"z":-0.12},{"t":29,"w":56,"z":-0.18},{"t":29,"w":55,"z":-0.1},{"t":29,"w":54,"z":-0.05},{"t":29,"w":53,"z":0.05},{"t":29,"w":52,"z":0.15},{"t":29,"w":51,"z":0.22},{"t":29,"w":50,"z":0.24},{"t":29,"w":49,"z":0.2},{"t":29,"w":48,"z":0.22},{"t":29,"w":47,"z":0.13},{"t":29,"w":46,"z":0.14},{"t":29,"w":45,"z":0.12},{"t":29,"w":44,"z":0.14},{"t":29,"w":43,"z":0.12},{"t":29,"w":42,"z":0.13},{"t":29,"w":41,"z":0.05},{"t":29,"w":40,"z":0.06},{"t":29,"w":39,"z":0.04},{"t":29,"w":38,"z":0.05},{"t":29,"w":37,"z":0.06},{"t":29,"w":36,"z":0.07},{"t":29,"w":35,"z":0.1},{"t":29,"w":34,"z":0.09},{"t":29,"w":33,"z":0.08},{"t":29,"w":32,"z":0},{"t":29,"w":31,"z":0},
{"t":30,"w":55,"z":-0.12},{"t":30,"w":54,"z":-0.18},{"t":30,"w":53,"z":-0.1},{"t":30,"w":52,"z":-0.02},{"t":30,"w":51,"z":0.05},{"t":30,"w":50,"z":0.07},{"t":30,"w":49,"z":0.25},{"t":30,"w":48,"z":0.25},{"t":30,"w":47,"z":0.2},{"t":30,"w":46,"z":0.22},{"t":30,"w":45,"z":0.19},{"t":30,"w":44,"z":0.2},{"t":30,"w":43,"z":0.18},{"t":30,"w":42,"z":0.21},{"t":30,"w":41,"z":0.12},{"t":30,"w":40,"z":0.13},{"t":30,"w":39,"z":0.11},{"t":30,"w":38,"z":0.12},{"t":30,"w":37,"z":0.13},{"t":30,"w":36,"z":0.1},{"t":30,"w":35,"z":0.1},{"t":30,"w":34,"z":0.09},{"t":30,"w":33,"z":0.08},{"t":30,"w":32,"z":0.08},{"t":30,"w":31,"z":0},{"t":30,"w":30,"z":0},
{"t":31,"w":54,"z":-0.15},{"t":31,"w":53,"z":-0.2},{"t":31,"w":52,"z":-0.12},{"t":31,"w":51,"z":-0.05},{"t":31,"w":50,"z":0.08},{"t":31,"w":49,"z":0.12},{"t":31,"w":48,"z":0.13},{"t":31,"w":47,"z":0.05},{"t":31,"w":46,"z":0.06},{"t":31,"w":45,"z":0.04},{"t":31,"w":44,"z":0.05},{"t":31,"w":43,"z":0.06},{"t":31,"w":42,"z":0.05},{"t":31,"w":41,"z":0.2},{"t":31,"w":40,"z":0.18},{"t":31,"w":39,"z":0.21},{"t":31,"w":38,"z":0.19},{"t":31,"w":37,"z":0.18},{"t":31,"w":36,"z":0.2},{"t":31,"w":35,"z":0.1},{"t":31,"w":34,"z":0.12},{"t":31,"w":33,"z":0.1},{"t":31,"w":32,"z":0.08},{"t":31,"w":31,"z":0.07},{"t":31,"w":30,"z":0},{"t":31,"w":29,"z":0},{"t":31,"w":28,"z":0},
{"t":32,"w":53,"z":-0.15},{"t":32,"w":52,"z":-0.25},{"t":32,"w":51,"z":-0.15},{"t":32,"w":50,"z":-0.08},{"t":32,"w":49,"z":-0.02},{"t":32,"w":48,"z":0.06},{"t":32,"w":47,"z":0.12},{"t":32,"w":46,"z":0.14},{"t":32,"w":45,"z":0.12},{"t":32,"w":44,"z":0.13},{"t":32,"w":43,"z":0.11},{"t":32,"w":42,"z":0.12},{"t":32,"w":41,"z":0.05},{"t":32,"w":40,"z":0.06},{"t":32,"w":39,"z":0.04},{"t":32,"w":38,"z":0.05},{"t":32,"w":37,"z":0.06},{"t":32,"w":36,"z":0.04},{"t":32,"w":35,"z":0.15},{"t":32,"w":34,"z":0.16},{"t":32,"w":33,"z":0.14},{"t":32,"w":32,"z":0.15},{"t":32,"w":31,"z":0.13},{"t":32,"w":30,"z":0.12},{"t":32,"w":29,"z":0.05},{"t":32,"w":28,"z":0},{"t":32,"w":27,"z":0},
{"t":33,"w":52,"z":-0.4},{"t":33,"w":51,"z":-0.3},{"t":33,"w":50,"z":-0.2},{"t":33,"w":49,"z":-0.1},{"t":33,"w":48,"z":-0.02},{"t":33,"w":47,"z":0.04},{"t":33,"w":46,"z":0.08},{"t":33,"w":45,"z":0.1},{"t":33,"w":44,"z":0.08},{"t":33,"w":43,"z":0.09},{"t":33,"w":42,"z":0.1},{"t":33,"w":41,"z":0.1},{"t":33,"w":40,"z":0.08},{"t":33,"w":39,"z":0.1},{"t":33,"w":38,"z":0.13},{"t":33,"w":37,"z":0.15},{"t":33,"w":36,"z":0.15},{"t":33,"w":35,"z":0.12},{"t":33,"w":34,"z":0.1},{"t":33,"w":33,"z":0.1},{"t":33,"w":32,"z":0.08},{"t":33,"w":31,"z":0.08},{"t":33,"w":30,"z":0.08},{"t":33,"w":29,"z":0.08},{"t":33,"w":28,"z":0.08},{"t":33,"w":27,"z":0},{"t":33,"w":26,"z":0},{"t":33,"w":25,"z":0},
{"t":34,"w":50,"z":-0.39},{"t":34,"w":49,"z":-0.3},{"t":34,"w":48,"z":-0.25},{"t":34,"w":47,"z":-0.15},{"t":34,"w":46,"z":-0.08},{"t":34,"w":45,"z":-0.02},{"t":34,"w":44,"z":0.03},{"t":34,"w":43,"z":0.05},{"t":34,"w":42,"z":0.06},{"t":34,"w":41,"z":0.06},{"t":34,"w":40,"z":0.07},{"t":34,"w":39,"z":0.08},{"t":34,"w":38,"z":0.08},{"t":34,"w":37,"z":0.08},{"t":34,"w":36,"z":0.08},{"t":34,"w":35,"z":0.08},{"t":34,"w":34,"z":0.07},{"t":34,"w":33,"z":0.08},{"t":34,"w":32,"z":0.1},{"t":34,"w":31,"z":0.08},{"t":34,"w":30,"z":0.07},{"t":34,"w":29,"z":0.07},{"t":34,"w":28,"z":0.06},{"t":34,"w":27,"z":0.06},{"t":34,"w":26,"z":0.04},{"t":34,"w":25,"z":0},{"t":34,"w":24,"z":0},
{"t":35,"w":46,"z":-0.3},{"t":35,"w":45,"z":-0.28},{"t":35,"w":44,"z":-0.25},{"t":35,"w":43,"z":-0.2},{"t":35,"w":42,"z":-0.15},{"t":35,"w":41,"z":-0.08},{"t":35,"w":40,"z":-0.02},{"t":35,"w":39,"z":0.02},{"t":35,"w":38,"z":0.06},{"t":35,"w":37,"z":0.05},{"t":35,"w":36,"z":0.04},{"t":35,"w":35,"z":0.05},{"t":35,"w":34,"z":0.06},{"t":35,"w":33,"z":0.05},{"t":35,"w":32,"z":0.05},{"t":35,"w":31,"z":0.06},{"t":35,"w":30,"z":0.05},{"t":35,"w":29,"z":0.07},{"t":35,"w":28,"z":0.1},{"t":35,"w":27,"z":0.1},{"t":35,"w":26,"z":0.05},{"t":35,"w":25,"z":0.03},{"t":35,"w":24,"z":0},{"t":35,"w":23,"z":0},{"t":35,"w":22,"z":0},
{"t":36,"w":43,"z":-0.27},{"t":36,"w":42,"z":-0.27},{"t":36,"w":41,"z":-0.22},{"t":36,"w":40,"z":-0.25},{"t":36,"w":39,"z":-0.2},{"t":36,"w":38,"z":-0.26},{"t":36,"w":37,"z":-0.25},{"t":36,"w":36,"z":-0.254},{"t":36,"w":35,"z":-0.1},{"t":36,"w":34,"z":0.03},{"t":36,"w":33,"z":0.05},{"t":36,"w":32,"z":0.07},{"t":36,"w":31,"z":0.07},{"t":36,"w":30,"z":0.06},{"t":36,"w":29,"z":0.04},{"t":36,"w":28,"z":0.03},{"t":36,"w":27,"z":0.04},{"t":36,"w":26,"z":0.05},{"t":36,"w":25,"z":0.06},{"t":36,"w":24,"z":0.04},{"t":36,"w":23,"z":0.02},{"t":36,"w":22,"z":0},{"t":36,"w":21,"z":0},{"t":36,"w":20,"z":0},{"t":36,"w":19,"z":0},
{"t":37,"w":40,"z":-0.2},{"t":37,"w":39,"z":-0.15},{"t":37,"w":38,"z":-0.18},{"t":37,"w":37,"z":-0.148},{"t":37,"w":36,"z":-0.15},{"t":37,"w":35,"z":-0.2},{"t":37,"w":34,"z":-0.2},{"t":37,"w":33,"z":-0.2},{"t":37,"w":32,"z":-0.2},{"t":37,"w":31,"z":-0.06},{"t":37,"w":30,"z":-0.19},{"t":37,"w":29,"z":-0.18},{"t":37,"w":28,"z":-0.19},{"t":37,"w":27,"z":-0.2},{"t":37,"w":26,"z":-0.2},{"t":37,"w":25,"z":-0.215},{"t":37,"w":24,"z":-0.09},{"t":37,"w":23,"z":-0.05},{"t":37,"w":22,"z":-0.1},{"t":37,"w":21,"z":-0.11},{"t":37,"w":20,"z":-0.03},{"t":37,"w":19,"z":0}
]},
"encoding":{"x":{"field":"sx","type":"quantitative","scale":{"domain":[0,2931],"nice":false,"zero":false},"axis":null},"y":{"field":"sy","type":"quantitative","scale":{"domain":[1550,0],"nice":false,"zero":false},"axis":null}},
"layer":[
{"data":{"name":"frame"},"transform":[{"filter":"datum.g==='grid'"},{"calculate":"158.4+21.29*datum.t+17.93*datum.w","as":"sx"},{"calculate":"714+7.18*datum.t-1.4*datum.w-665*datum.z","as":"sy"},{"calculate":"158.4+21.29*datum.t2+17.93*datum.w2","as":"sx2"},{"calculate":"714+7.18*datum.t2-1.4*datum.w2-665*datum.z2","as":"sy2"}],"mark":{"type":"rule","stroke":"#dcdcdc","strokeWidth":1.6},"encoding":{"x2":{"field":"sx2"},"y2":{"field":"sy2"}}},
{"data":{"name":"frame"},"transform":[{"filter":"datum.g==='axis'"},{"calculate":"158.4+21.29*datum.t+17.93*datum.w","as":"sx"},{"calculate":"714+7.18*datum.t-1.4*datum.w-665*datum.z","as":"sy"},{"calculate":"158.4+21.29*datum.t2+17.93*datum.w2","as":"sx2"},{"calculate":"714+7.18*datum.t2-1.4*datum.w2-665*datum.z2","as":"sy2"}],"mark":{"type":"rule","stroke":"#2b2b2b","strokeWidth":1.6},"encoding":{"x2":{"field":"sx2"},"y2":{"field":"sy2"}}},
{"data":{"name":"labels"},"transform":[{"filter":"datum.a==='z'"},{"calculate":"158.4+21.29*datum.t+17.93*datum.w","as":"sx"},{"calculate":"714+7.18*datum.t-1.4*datum.w-665*datum.z","as":"sy"}],"mark":{"type":"text","font":"Liberation Sans","fontSize":17,"fill":"#262626","align":"right","baseline":"middle"},"encoding":{"text":{"field":"s"}}},
{"data":{"name":"labels"},"transform":[{"filter":"datum.a==='t'"},{"calculate":"158.4+21.29*datum.t+17.93*datum.w","as":"sx"},{"calculate":"714+7.18*datum.t-1.4*datum.w-665*datum.z","as":"sy"}],"mark":{"type":"text","font":"Liberation Sans","fontSize":17,"fill":"#262626","align":"center","baseline":"middle","dy":14},"encoding":{"text":{"field":"s"}}},
{"data":{"name":"titles"},"transform":[{"calculate":"158.4+21.29*datum.t+17.93*datum.w","as":"sx"},{"calculate":"714+7.18*datum.t-1.4*datum.w-665*datum.z","as":"sy"}],"mark":{"type":"text","font":"Liberation Sans","fontSize":30.5,"fill":"#262626","align":"center","baseline":"middle"},"encoding":{"text":{"field":"s"}}},
{"data":{"name":"zt"},"transform":[{"calculate":"158.4+21.29*datum.t+17.93*datum.w","as":"sx"},{"calculate":"714+7.18*datum.t-1.4*datum.w-665*datum.z","as":"sy"}],"mark":{"type":"text","font":"Liberation Sans","fontSize":18,"fill":"#262626","align":"center","baseline":"middle","angle":270},"encoding":{"text":{"field":"s"}}},
{"data":{"name":"sheetpoly"},"transform":[{"calculate":"158.4+21.29*datum.t+17.93*datum.w","as":"sx"},{"calculate":"714+7.18*datum.t-1.4*datum.w","as":"sy"}],"mark":{"type":"line","fill":"white","stroke":"transparent"},"encoding":{"order":{"field":"i"}}},
{"data":{"name":"sheet"},"transform":[{"calculate":"isValid(datum.t)?datum.t:1","as":"ta"},{"calculate":"isValid(datum.t)?datum.t:38","as":"tb"},{"calculate":"isValid(datum.w)?datum.w:1","as":"wa"},{"calculate":"isValid(datum.w)?datum.w:100","as":"wb"},{"calculate":"158.4+21.29*datum.ta+17.93*datum.wa","as":"sx"},{"calculate":"714+7.18*datum.ta-1.4*datum.wa","as":"sy"},{"calculate":"158.4+21.29*datum.tb+17.93*datum.wb","as":"sx2"},{"calculate":"714+7.18*datum.tb-1.4*datum.wb","as":"sy2"}],"mark":{"type":"rule","stroke":"#2aa2e6","strokeWidth":1.9},"encoding":{"x2":{"field":"sx2"},"y2":{"field":"sy2"}}},
{"data":{"name":"nodes"},"transform":[
{"window":[{"op":"lead","field":"z","as":"zr"},{"op":"lead","field":"w","as":"wr"}],"groupby":["t"],"sort":[{"field":"w","order":"ascending"}]},
{"calculate":"datum.wr===datum.w+1?datum.zr:0","as":"z01"},
{"window":[{"op":"lead","field":"z","as":"zd"},{"op":"lead","field":"z01","as":"zdr"},{"op":"lead","field":"t","as":"td"}],"groupby":["w"],"sort":[{"field":"t","order":"ascending"}]},
{"calculate":"datum.td===datum.t+1?datum.zd:0","as":"z10"},
{"calculate":"datum.td===datum.t+1?datum.zdr:0","as":"z11"},
{"calculate":"[{p:0,i:0,a:0,b:0},{p:0,i:1,a:0,b:1},{p:0,i:2,a:1,b:1},{p:0,i:3,a:1,b:0},{p:1,i:0,a:1,b:0},{p:1,i:1,a:0,b:0},{p:1,i:2,a:0,b:1},{p:2,i:0,a:1,b:0},{p:2,i:1,a:1,b:1},{p:3,i:0,a:0,b:1},{p:3,i:1,a:1,b:1}]","as":"parts"},
{"flatten":["parts"],"as":["q"]},
{"calculate":"datum.q.p","as":"p"},{"calculate":"datum.q.i","as":"i"},
{"calculate":"datum.t+datum.q.a","as":"tt"},{"calculate":"datum.w+datum.q.b","as":"ww"},
{"calculate":"datum.q.a===0?(datum.q.b===0?datum.z:datum.z01):(datum.q.b===0?datum.z10:datum.z11)","as":"zz"},
{"calculate":"datum.p===1?datum.z:(datum.p===2?datum.z10:(datum.p===3?datum.z01:0))","as":"c"},
{"calculate":"(datum.t*1000+datum.w)*10+datum.p","as":"g"},
{"calculate":"datum.p===0?'white':'transparent'","as":"f"},
{"calculate":"158.4+21.29*datum.tt+17.93*datum.ww","as":"sx"},
{"calculate":"714+7.18*datum.tt-1.4*datum.ww-665*datum.zz","as":"sy"}],
"mark":{"type":"line","strokeWidth":1.7,"strokeJoin":"round"},
"encoding":{"detail":{"field":"g","type":"nominal"},"order":{"field":"i"},"fill":{"field":"f","type":"nominal","scale":null},"stroke":{"condition":{"test":"datum.p===0","value":"transparent"},"field":"c","type":"quantitative","legend":null,"scale":{"domain":[-0.4,-0.3,-0.2,-0.1,0,0.1,0.2,0.3,0.4,0.5,0.6,0.7],"range":["#3f2dbf","#4a3fd8","#4a58ea","#3f7cf0","#2aa2e6","#16bdd0","#2cc3a6","#5fc487","#a8bf4e","#e0bb3a","#fcc437","#f9f815"]}}}},
{"data":{"name":"coverpoly"},"transform":[{"calculate":"158.4+21.29*datum.t+17.93*datum.w","as":"sx"},{"calculate":"714+7.18*datum.t-1.4*datum.w","as":"sy"}],"mark":{"type":"line","fill":"white","stroke":"transparent"},"encoding":{"order":{"field":"i"}}},
{"data":{"name":"coverT"},"transform":[{"calculate":"158.4+21.29*datum.t+17.93*datum.w","as":"sx"},{"calculate":"714+7.18*datum.t-1.4*datum.w","as":"sy"},{"calculate":"158.4+21.29*datum.t+17.93*100","as":"sx2"},{"calculate":"714+7.18*datum.t-1.4*100","as":"sy2"}],"mark":{"type":"rule","stroke":"#2aa2e6","strokeWidth":1.9},"encoding":{"x2":{"field":"sx2"},"y2":{"field":"sy2"}}},
{"data":{"name":"coverW"},"transform":[{"calculate":"158.4+21.29*datum.u+17.93*datum.w","as":"sx"},{"calculate":"714+7.18*datum.u-1.4*datum.w","as":"sy"},{"calculate":"158.4+21.29*38+17.93*datum.w","as":"sx2"},{"calculate":"714+7.18*38-1.4*datum.w","as":"sy2"}],"mark":{"type":"rule","stroke":"#2aa2e6","strokeWidth":1.9},"encoding":{"x2":{"field":"sx2"},"y2":{"field":"sy2"}}},
{"data":{"name":"tip"},"transform":[{"calculate":"158.4+21.29*datum.t+17.93*datum.w-119","as":"sx"},{"calculate":"714+7.18*datum.t-1.4*datum.w-665*datum.z-90","as":"sy"},{"calculate":"datum.sx+116","as":"sx2"},{"calculate":"datum.sy+91","as":"sy2"}],"mark":{"type":"rect","fill":"#fbfbff","stroke":"#7a7a7a","strokeWidth":2,"cornerRadius":3},"encoding":{"x2":{"field":"sx2"},"y2":{"field":"sy2"}}},
{"data":{"name":"tip"},"transform":[{"calculate":"158.4+21.29*datum.t+17.93*datum.w-1","as":"sx"},{"calculate":"714+7.18*datum.t-1.4*datum.w-665*datum.z+2","as":"sy"}],"mark":{"type":"square","fill":"#111111","size":30,"opacity":1}},
{"data":{"name":"tiptext"},"transform":[{"calculate":"158.4+21.29*datum.t+17.93*datum.w-104","as":"sx"},{"calculate":"714+7.18*datum.t-1.4*datum.w-665*datum.z-69+24.5*datum.r","as":"sy"}],"mark":{"type":"text","font":"Liberation Sans","fontSize":18,"fill":"#404040","align":"center","baseline":"middle"},"encoding":{"text":{"field":"n"}}},
{"data":{"name":"tiptext"},"transform":[{"calculate":"158.4+21.29*datum.t+17.93*datum.w-92","as":"sx"},{"calculate":"714+7.18*datum.t-1.4*datum.w-665*datum.z-69+24.5*datum.r","as":"sy"}],"mark":{"type":"text","font":"Liberation Sans","fontSize":18,"fontWeight":"bold","fill":"#0a9dff","align":"left","baseline":"middle"},"encoding":{"text":{"field":"v"}}}
]}
